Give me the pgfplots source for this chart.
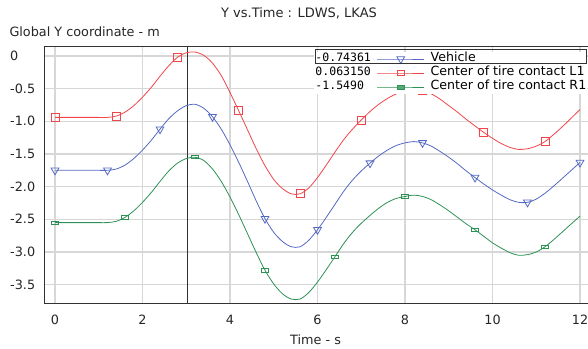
\documentclass[border=0pt]{standalone}
\usepackage{pgfplots}
\pgfplotsset{compat=1.18}
\usepackage{fontspec}
\setmainfont{DejaVu Sans}
\newfontfamily\valfont{DejaVu Sans Mono}
\definecolor{cblue}{RGB}{85,105,195}
\definecolor{cred}{RGB}{240,70,75}
\definecolor{cgreen}{RGB}{45,145,85}
\definecolor{gridc}{RGB}{215,215,215}
\definecolor{axc}{RGB}{50,50,50}
\begin{document}
\begin{tikzpicture}
\useasboundingbox (0pt,0pt) rectangle (588pt,348pt);
\begin{axis}[
 at={(44.3pt,44.7pt)}, anchor=south west,
 scale only axis, width=555.7pt, height=256.8pt,
 xmin=-0.245, xmax=12.457, ymin=-3.785, ymax=0.145,
 xtick={0,2,4,6,8,10,12}, xticklabels={0,2,4,6,8,10,12},
 ytick={-3.5,-3,-2.5,-2,-1.5,-1,-0.5,0},
 yticklabels={-3.5,-3.0,-2.5,-2.0,-1.5,-1.0,-0.5,0},
 grid=major, major grid style={gridc, line width=1.1pt},
 axis line style={axc, line width=1.1pt},
 major tick length=0pt,
 tick label style={font=\fontsize{12.8}{14}\selectfont, inner sep=0pt, text=black!85},
 yticklabel style={anchor=west, xshift=-34.3pt},
 xticklabel style={anchor=center, yshift=-16.2pt},
 legend columns=2, legend cell align=left,
 legend style={at={(rel axis cs:0.4862,0.9786)}, anchor=north west, draw=none, fill=white,
   inner sep=0pt, outer sep=0pt, font=\fontsize{12.6}{14}\selectfont, row sep=0pt,
   nodes={inner sep=1pt, text height=9pt, text depth=3pt},
   /tikz/column 2/.style={column sep=5pt},
   /tikz/column 3/.style={column sep=5pt}},
 legend image code/.code={\draw[#1, mark repeat=2, mark phase=2] plot coordinates {(0pt,0pt) (23.5pt,0pt) (47pt,0pt)};},
]
% cursor line
\addplot[axc, line width=1.1pt, forget plot] coordinates {(3.033,-3.785) (3.033,0.145)};

% Vehicle
\addplot[cblue, line width=0.8pt, smooth, mark=triangle, mark repeat=6, mark size=4.5pt,
  mark options={rotate=180, solid, line width=0.8pt}, forget plot] coordinates {
(0,-1.75) (0.2,-1.75) (0.4,-1.75) (0.6,-1.75) (0.8,-1.75) (1.0,-1.75) (1.2,-1.75)
(1.4,-1.73) (1.6,-1.67) (1.8,-1.57) (2.0,-1.44) (2.2,-1.29) (2.4,-1.12) (2.6,-0.96)
(2.8,-0.84) (3.0,-0.76) (3.2,-0.74) (3.4,-0.80) (3.6,-0.93) (3.8,-1.12) (4.0,-1.36)
(4.2,-1.63) (4.4,-1.92) (4.6,-2.22) (4.8,-2.49) (5.0,-2.70) (5.2,-2.84) (5.4,-2.92)
(5.6,-2.92) (5.8,-2.82) (6.0,-2.66) (6.2,-2.47) (6.4,-2.27) (6.6,-2.07) (6.8,-1.90)
(7.0,-1.76) (7.2,-1.64) (7.4,-1.53) (7.6,-1.44) (7.8,-1.37) (8.0,-1.33) (8.2,-1.31)
(8.4,-1.33) (8.6,-1.38) (8.8,-1.46) (9.0,-1.55) (9.2,-1.65) (9.4,-1.76) (9.6,-1.86)
(9.8,-1.96) (10.0,-2.05) (10.2,-2.13) (10.4,-2.20) (10.6,-2.24) (10.8,-2.24) (11.0,-2.19)
(11.2,-2.10) (11.4,-1.99) (11.6,-1.87) (11.8,-1.75) (12.0,-1.63)
};
% L1
\addplot[cred, line width=0.8pt, smooth, mark=square, mark repeat=7, mark size=4pt,
  mark options={solid, line width=0.8pt}, forget plot] coordinates {
(0,-0.94) (0.2,-0.94) (0.4,-0.94) (0.6,-0.94) (0.8,-0.94) (1.0,-0.94) (1.2,-0.94)
(1.4,-0.92) (1.6,-0.86) (1.8,-0.76) (2.0,-0.63) (2.2,-0.48) (2.4,-0.31) (2.6,-0.15)
(2.8,-0.02) (3.0,0.05) (3.2,0.06) (3.4,0.01) (3.6,-0.11) (3.8,-0.30) (4.0,-0.56)
(4.2,-0.84) (4.4,-1.13) (4.6,-1.42) (4.8,-1.68) (5.0,-1.89) (5.2,-2.03) (5.4,-2.11)
(5.6,-2.11) (5.8,-2.02) (6.0,-1.86) (6.2,-1.67) (6.4,-1.47) (6.6,-1.28) (6.8,-1.12)
(7.0,-0.98) (7.2,-0.85) (7.4,-0.74) (7.6,-0.65) (7.8,-0.58) (8.0,-0.54) (8.2,-0.52)
(8.4,-0.53) (8.6,-0.58) (8.8,-0.66) (9.0,-0.76) (9.2,-0.86) (9.4,-0.97) (9.6,-1.07)
(9.8,-1.17) (10.0,-1.26) (10.2,-1.34) (10.4,-1.40) (10.6,-1.43) (10.8,-1.42) (11.0,-1.38)
(11.2,-1.31) (11.4,-1.20) (11.6,-1.08) (11.8,-0.95) (12.0,-0.82)
};
% R1
\addplot[cgreen, line width=0.8pt, smooth, mark=square, mark repeat=8, mark size=3.6pt,
  mark options={solid, line width=0.8pt, yscale=0.45}, forget plot] coordinates {
(0,-2.55) (0.2,-2.55) (0.4,-2.55) (0.6,-2.55) (0.8,-2.55) (1.0,-2.55) (1.2,-2.55)
(1.4,-2.53) (1.6,-2.47) (1.8,-2.37) (2.0,-2.24) (2.2,-2.09) (2.4,-1.92) (2.6,-1.76)
(2.8,-1.64) (3.0,-1.57) (3.2,-1.55) (3.4,-1.60) (3.6,-1.73) (3.8,-1.92) (4.0,-2.16)
(4.2,-2.43) (4.4,-2.72) (4.6,-3.01) (4.8,-3.28) (5.0,-3.49) (5.2,-3.64) (5.4,-3.72)
(5.6,-3.72) (5.8,-3.62) (6.0,-3.46) (6.2,-3.27) (6.4,-3.07) (6.6,-2.87) (6.8,-2.70)
(7.0,-2.56) (7.2,-2.44) (7.4,-2.33) (7.6,-2.24) (7.8,-2.18) (8.0,-2.15) (8.2,-2.13)
(8.4,-2.15) (8.6,-2.20) (8.8,-2.28) (9.0,-2.37) (9.2,-2.47) (9.4,-2.57) (9.6,-2.66)
(9.8,-2.76) (10.0,-2.86) (10.2,-2.94) (10.4,-3.01) (10.6,-3.05) (10.8,-3.04) (11.0,-3.00)
(11.2,-2.92) (11.4,-2.81) (11.6,-2.69) (11.8,-2.57) (12.0,-2.45)
};

\addlegendimage{empty legend}\addlegendentry{\valfont\fontsize{11.5}{14}\selectfont -0.74361}
\addlegendimage{cblue, line width=0.8pt, mark=triangle, mark size=4.5pt, mark options={rotate=180, solid, fill=cblue!25}}\addlegendentry{Vehicle}
\addlegendimage{empty legend}\addlegendentry{\valfont\fontsize{11.5}{14}\selectfont 0.063150}
\addlegendimage{cred, line width=0.8pt, mark=square, mark size=3.5pt, mark options={solid, yscale=0.65}}\addlegendentry{Center of tire contact L1}
\addlegendimage{empty legend}\addlegendentry{\valfont\fontsize{11.5}{14}\selectfont -1.5490}
\addlegendimage{cgreen, line width=0.8pt, mark=square*, mark size=3.6pt, mark options={solid, yscale=0.55, fill=cgreen!80}}\addlegendentry{Center of tire contact R1}
\end{axis}
\draw[axc, line width=1pt] (315pt,298pt) rectangle (586pt,284.5pt);
\node[anchor=base, inner sep=0pt, font=\fontsize{13}{15}\selectfont, text=black!85] at (299pt,330.7pt) {Y vs.Time : LDWS, LKAS};
\node[anchor=base west, inner sep=0pt, font=\fontsize{12.8}{15}\selectfont, text=black!85] at (9.3pt,311pt) {Global Y coordinate - m};
\node[anchor=base west, inner sep=0pt, font=\fontsize{12.8}{15}\selectfont, text=black!85] at (290pt,4pt) {Time - s};
\end{tikzpicture}
\end{document}
